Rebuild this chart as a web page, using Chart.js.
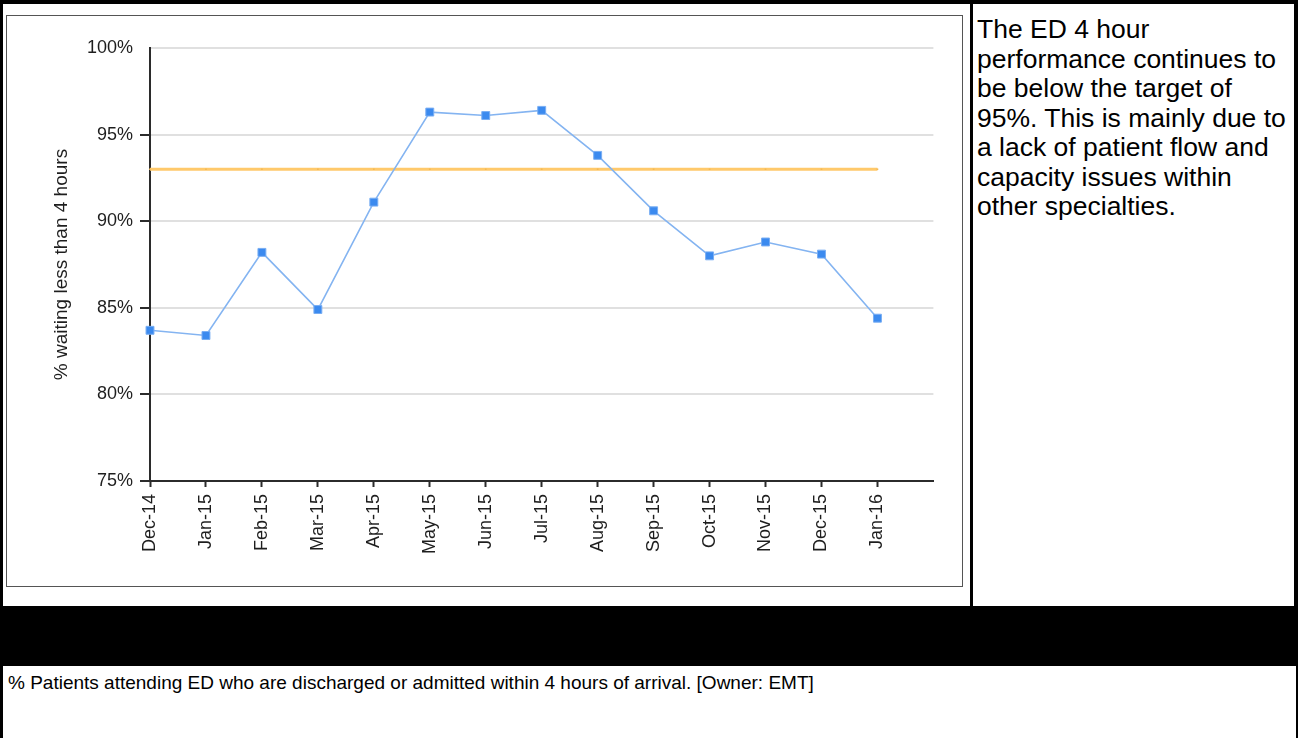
<!DOCTYPE html>
<html>
<head>
<meta charset="utf-8">
<script src="https://cdn.jsdelivr.net/npm/chart.js@4.4.1/dist/chart.umd.min.js"></script>
<style>
html,body{margin:0;padding:0;background:#fff;}
body{width:1298px;height:738px;position:relative;overflow:hidden;font-family:"Liberation Sans",Arial,sans-serif;color:#000;}
.blk{position:absolute;background:#000;}
#chartBox{position:absolute;left:6px;top:15px;width:955px;height:570px;border:1px solid #555;}
#chartBox canvas{position:absolute;left:0;top:0;}
#note{position:absolute;left:977px;top:15px;width:316px;font-size:26.5px;line-height:29.5px;}
#foot{position:absolute;left:8px;top:672px;font-size:19px;line-height:22px;white-space:nowrap;}
</style>
</head>
<body>
<div class="blk" style="left:0;top:0;width:1298px;height:4px;"></div>
<div class="blk" style="left:0;top:0;width:3px;height:738px;"></div>
<div class="blk" style="left:1294px;top:0;width:4px;height:606px;"></div>
<div class="blk" style="left:1296px;top:606px;width:2px;height:132px;"></div>
<div class="blk" style="left:970px;top:0;width:3px;height:606px;"></div>
<div class="blk" style="left:0;top:606px;width:1298px;height:60px;"></div>

<div id="chartBox"><canvas id="c" width="955" height="570"></canvas></div>
<div id="note">The ED 4 hour performance continues to be below the target of 95%. This is mainly due to a lack of patient flow and capacity issues within other specialties.</div>
<div id="foot">% Patients attending ED who are discharged or admitted within 4 hours of arrival. [Owner: EMT]</div>

<script>
// ---- data ----
const categories = ['Dec-14','Jan-15','Feb-15','Mar-15','Apr-15','May-15','Jun-15','Jul-15','Aug-15','Sep-15','Oct-15','Nov-15','Dec-15','Jan-16'];
const performance = [83.7, 83.4, 88.2, 84.9, 91.1, 96.3, 96.1, 96.4, 93.8, 90.6, 88.0, 88.8, 88.1, 84.4];
const targetLine = [93, 93, 93, 93, 93, 93, 93, 93, 93, 93, 93, 93, 93, 93];
const yTickValues = [75, 80, 85, 90, 95, 100];
const yAxisTitle = '% waiting less than 4 hours';

// one empty slot after the last month (axis runs on past Jan-16)
const axisLabels = categories.concat(['']);
const lastIdx = axisLabels.length - 1;

new Chart(document.getElementById('c'), {
  type: 'line',
  data: {
    labels: axisLabels,
    datasets: [
      {
        label: 'Target',
        data: targetLine,
        borderColor: '#ffc96b',
        borderWidth: 3,
        pointRadius: 1.2,
        pointStyle: 'rect',
        pointBackgroundColor: '#f3b955',
        pointBorderWidth: 0,
        tension: 0,
        order: 2
      },
      {
        label: '% within 4 hours',
        data: performance,
        borderColor: '#84b4f1',
        borderWidth: 1.6,
        pointStyle: 'rect',
        pointRadius: 5.6,
        pointBackgroundColor: '#3b8aef',
        pointBorderColor: '#79aef3',
        pointBorderWidth: 1,
        tension: 0,
        order: 1
      }
    ]
  },
  options: {
    responsive: false,
    animation: false,
    events: [],
    layout: { padding: { left: 0, top: 32, right: 28, bottom: 0 } },
    plugins: { legend: { display: false }, tooltip: { enabled: false } },
    scales: {
      x: {
        type: 'category',
        offset: false,
        afterFit: s => { s.height = 105; },
        border: { display: true, color: '#2b2b2b', width: 2 },
        grid: {
          drawOnChartArea: false,
          drawTicks: true,
          tickLength: 6,
          tickWidth: 2,
          tickColor: ctx => ctx.index === lastIdx ? 'rgba(0,0,0,0)' : '#2b2b2b'
        },
        ticks: {
          autoSkip: false,
          maxRotation: 90,
          minRotation: 90,
          padding: 7,
          color: '#1e1e1e',
          font: { family: '"Liberation Sans", Arial, sans-serif', size: 18 }
        }
      },
      y: {
        min: 75,
        max: 100,
        afterFit: s => { s.width = 143; },
        afterBuildTicks: s => { s.ticks = yTickValues.map(v => ({ value: v })); },
        border: { display: true, color: '#2b2b2b', width: 2 },
        grid: {
          color: '#e0e0e0',
          lineWidth: 2,
          drawTicks: true,
          tickLength: 10,
          tickWidth: 2,
          tickColor: ctx => (ctx.tick && ctx.tick.value === 100) ? 'rgba(0,0,0,0)' : '#2b2b2b'
        },
        ticks: {
          padding: 7,
          color: '#1e1e1e',
          font: { family: '"Liberation Sans", Arial, sans-serif', size: 18 },
          callback: v => v + '%'
        },
        title: {
          display: true,
          text: yAxisTitle,
          color: '#1e1e1e',
          padding: { top: 43, bottom: 0 },
          font: { family: '"Liberation Sans", Arial, sans-serif', size: 19 }
        }
      }
    }
  }
});
</script>
</body>
</html>
